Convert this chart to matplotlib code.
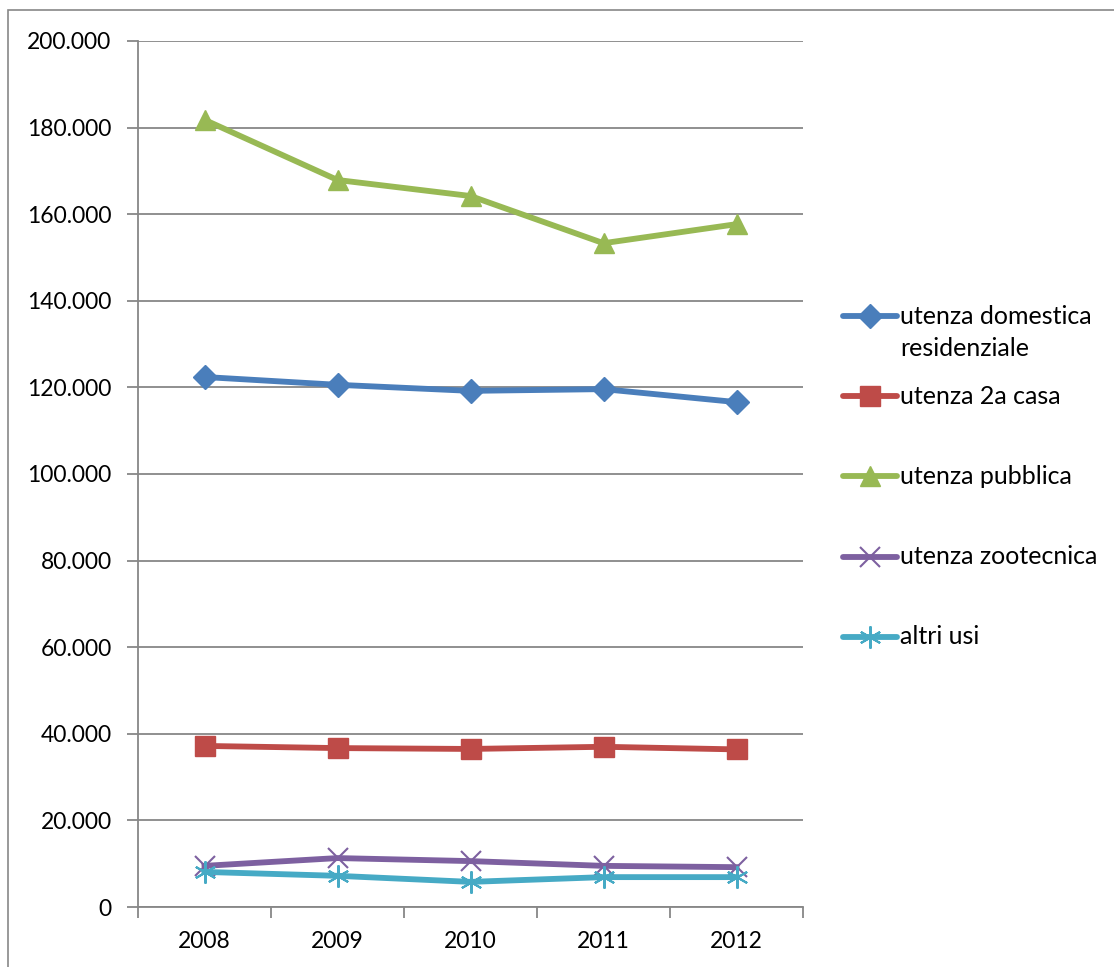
import matplotlib
matplotlib.use("Agg")
import matplotlib.pyplot as plt
from matplotlib.lines import Line2D
from matplotlib.patches import Rectangle
from matplotlib.ticker import FuncFormatter, FixedLocator

plt.rcParams['font.family'] = ['Lato', 'DejaVu Sans']

anni = ["2008", "2009", "2010", "2011", "2012"]
domestica = [122400, 120600, 119200, 119600, 116600]
seconda_casa = [37200, 36700, 36500, 37000, 36400]
pubblica = [181800, 167900, 164200, 153300, 157700]
zootecnica = [9500, 11300, 10600, 9500, 9200]
altri_usi = [8100, 7200, 5800, 6900, 6900]

serie = [
    ("utenza domestica\nresidenziale", domestica, "#4A7EBB", "D", 12, 1),
    ("utenza 2a casa", seconda_casa, "#BE4B48", "s", 14, 1),
    ("utenza pubblica", pubblica, "#98B954", "^", 15, 1),
    ("utenza zootecnica", zootecnica, "#7D60A0", "x", 14, 1.5),
    ("altri usi", altri_usi, "#46AAC5", (6, 2, 0), 16, 1.5),
]

W, H = 1114, 967
fig = plt.figure(figsize=(W / 100, H / 100), dpi=100)
fig.patches.append(Rectangle((8 / W, -0.1), 1.2, (H - 10) / H + 0.1,
                             transform=fig.transFigure, fill=False,
                             edgecolor="#888888", linewidth=1.2))

ax = fig.add_axes([138 / W, 1 - 907 / H, (803 - 138) / W, (907 - 41) / H])
x = list(range(1, len(anni) + 1))

for nome, vals, col, mk, ms, mew in serie:
    ax.plot(x, vals, color=col, linewidth=4.2, marker=mk, markersize=ms,
            markeredgewidth=mew, markeredgecolor=col, markerfacecolor=col,
            solid_joinstyle="round", clip_on=False, zorder=3)

ax.set_xlim(0.5, len(anni) + 0.5)
ax.set_ylim(0, 200000)
ax.set_yticks(range(0, 200001, 20000))
ax.yaxis.set_major_formatter(FuncFormatter(lambda v, p: f"{int(v):,}".replace(",", ".")))
ax.grid(axis="y", color="#878787", linewidth=1.3, zorder=0)
ax.set_xticks(x)
ax.set_xticklabels(anni)
ax.xaxis.set_minor_locator(FixedLocator([i + 0.5 for i in range(len(anni) + 1)]))
ax.tick_params(axis="x", which="major", length=0, pad=17, labelsize=16.5)
ax.tick_params(axis="x", which="minor", length=8, width=1.3, color="#878787")
ax.tick_params(axis="y", length=8, width=1.3, color="#878787", pad=11, labelsize=16.5)
for s in ["top", "right"]:
    ax.spines[s].set_visible(False)
for s in ["left", "bottom"]:
    ax.spines[s].set_color("#878787")
    ax.spines[s].set_linewidth(1.3)

# legenda
righe_y = [316, 396, 476, 557, 637]
for (nome, vals, col, mk, ms, mew), yp in zip(serie, righe_y):
    yf = 1 - yp / H
    fig.add_artist(Line2D([843 / W, 897 / W], [yf, yf], transform=fig.transFigure,
                          color=col, linewidth=4.2, solid_capstyle="round"))
    fig.add_artist(Line2D([870 / W], [yf], transform=fig.transFigure, color=col,
                          marker=mk, markersize=ms, markeredgewidth=mew,
                          markeredgecolor=col, markerfacecolor=col))
    for k, r in enumerate(nome.split("\n")):
        fig.text(900 / W, 1 - (yp + 32 * k) / H, r, fontsize=18, va="center", ha="left")

fig.savefig("out.png", dpi=100)
